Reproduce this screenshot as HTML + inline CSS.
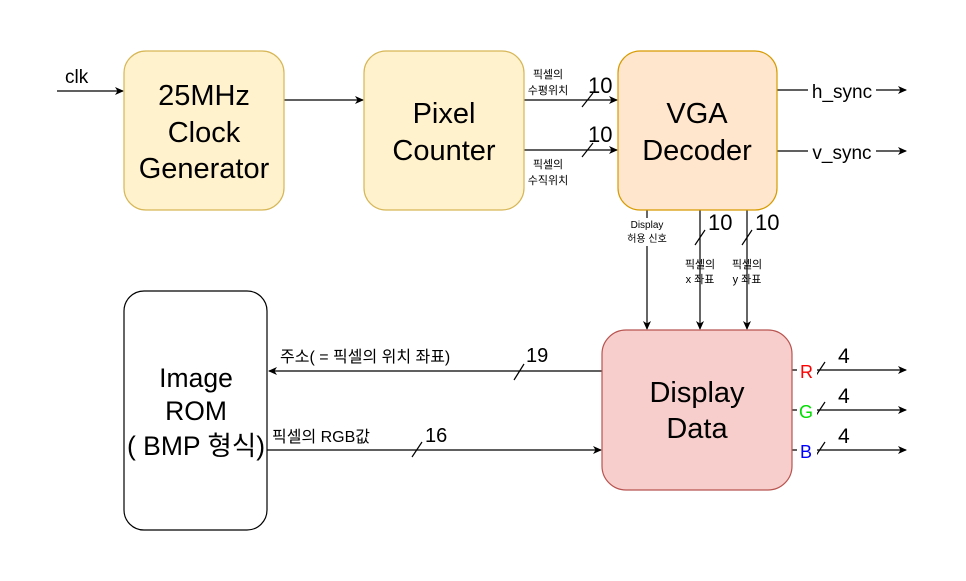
<!DOCTYPE html>
<html><head><meta charset="utf-8"><style>
html,body{margin:0;padding:0;background:#fff;}
svg{display:block;font-family:"Liberation Sans","Noto Sans CJK KR",sans-serif;}
</style></head><body>
<svg width="966" height="581" viewBox="0 0 966 581" xmlns="http://www.w3.org/2000/svg">
<defs>
<marker id="a" markerWidth="10" markerHeight="10" refX="8" refY="5" orient="auto" markerUnits="userSpaceOnUse">
<path d="M0,1 L9,5 L0,9 L2.5,5 Z" fill="#000"/></marker>
</defs>
<g stroke="#000" stroke-width="1.2" fill="none">
<line x1="57" y1="91" x2="123" y2="91" marker-end="url(#a)"/>
<line x1="284" y1="100" x2="363" y2="100" marker-end="url(#a)"/>
<line x1="524" y1="100" x2="617" y2="100" marker-end="url(#a)"/>
<line x1="524" y1="150" x2="617" y2="150" marker-end="url(#a)"/>
<line x1="777" y1="90" x2="906" y2="90" marker-end="url(#a)"/>
<line x1="777" y1="151" x2="906" y2="151" marker-end="url(#a)"/>
<line x1="647" y1="210" x2="647" y2="329" marker-end="url(#a)"/>
<line x1="700" y1="210" x2="700" y2="329" marker-end="url(#a)"/>
<line x1="747" y1="210" x2="747" y2="329" marker-end="url(#a)"/>
<line x1="602" y1="371" x2="269" y2="371" marker-end="url(#a)"/>
<line x1="267" y1="450" x2="601" y2="450" marker-end="url(#a)"/>
<line x1="792" y1="370" x2="906" y2="370" marker-end="url(#a)"/>
<line x1="792" y1="410" x2="906" y2="410" marker-end="url(#a)"/>
<line x1="792" y1="450" x2="906" y2="450" marker-end="url(#a)"/>
<line x1="582" y1="107" x2="593" y2="93"/>
<line x1="582" y1="157" x2="593" y2="143"/>
<line x1="695" y1="245" x2="705" y2="230"/>
<line x1="742" y1="245" x2="752" y2="230"/>
<line x1="514" y1="380" x2="524" y2="364"/>
<line x1="412" y1="457" x2="422" y2="442"/>
<line x1="815" y1="377" x2="825" y2="362"/>
<line x1="815" y1="417" x2="825" y2="402"/>
<line x1="815" y1="457" x2="825" y2="442"/>
</g>
<rect x="124" y="51" width="160" height="159" rx="22" fill="#fff2cc" stroke="#d6b656" stroke-width="1.2"/>
<rect x="364" y="51" width="160" height="159" rx="22" fill="#fff2cc" stroke="#d6b656" stroke-width="1.2"/>
<rect x="618" y="51" width="159" height="159" rx="22" fill="#ffe6cc" stroke="#d79b00" stroke-width="1.2"/>
<rect x="124" y="291" width="143" height="239" rx="20" fill="#fff" stroke="#000" stroke-width="1.2"/>
<rect x="602" y="330" width="190" height="160" rx="24" fill="#f8cecc" stroke="#b85450" stroke-width="1.2"/>
<g font-size="29" text-anchor="middle" fill="#000">
<text x="204" y="105">25MHz</text><text x="204" y="142">Clock</text><text x="204" y="178">Generator</text>
<text x="444" y="123">Pixel</text><text x="444" y="160">Counter</text>
<text x="697" y="123">VGA</text><text x="697" y="160">Decoder</text>
<text x="697" y="402">Display</text><text x="697" y="438">Data</text>
<g font-size="26.5"><text x="196" y="387">Image</text><text x="196" y="420">ROM</text><text x="196" y="455">( BMP 형식)</text></g>
</g>
<g fill="#000">
<text x="65" y="83" font-size="19">clk</text>
<rect x="808" y="81" width="68" height="19" fill="#fff"/>
<text x="842" y="98" font-size="19" text-anchor="middle">h_sync</text>
<rect x="808" y="142" width="68" height="19" fill="#fff"/>
<text x="842" y="159" font-size="19" text-anchor="middle">v_sync</text>
<g font-size="11" text-anchor="middle">
<text x="548" y="78">픽셀의</text><text x="548" y="94">수평위치</text>
<text x="548" y="168">픽셀의</text><text x="548" y="184">수직위치</text>
<text x="700" y="268">픽셀의</text><text x="700" y="283">x 좌표</text>
<text x="747" y="268">픽셀의</text><text x="747" y="283">y 좌표</text>
</g>
<rect x="620" y="218" width="54" height="28" fill="#fff"/>
<g font-size="10" text-anchor="middle">
<text x="647" y="228">Display</text><text x="647" y="242">허용 신호</text>
</g>
<g font-size="22">
<text x="588" y="93">10</text><text x="588" y="142">10</text>
<text x="708" y="230">10</text><text x="755" y="230">10</text>
</g>
<g font-size="20">
<text x="526" y="362">19</text><text x="425" y="442">16</text>
</g>
<g font-size="21">
<text x="838" y="363">4</text><text x="838" y="403">4</text><text x="838" y="443">4</text>
</g>
<text x="280" y="362" font-size="16">주소( = 픽셀의 위치 좌표)</text>
<text x="272" y="442" font-size="16">픽셀의 RGB값</text>
<rect x="797" y="361" width="20" height="19" fill="#fff"/>
<text x="800" y="378" font-size="18" fill="#ff0000">R</text>
<rect x="797" y="401" width="20" height="19" fill="#fff"/>
<text x="799" y="418" font-size="18" fill="#00dd00">G</text>
<rect x="797" y="441" width="20" height="19" fill="#fff"/>
<text x="800" y="458" font-size="18" fill="#0000ff">B</text>
</g>
</svg>
</body></html>
